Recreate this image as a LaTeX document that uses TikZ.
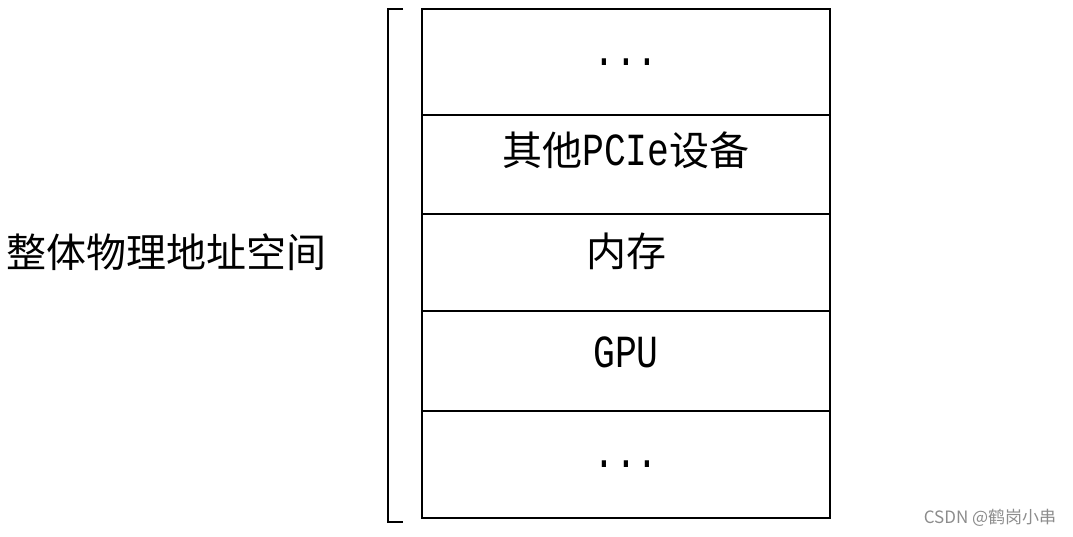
\documentclass[tikz,border=0pt]{standalone}
\usepackage{fontspec}
\setmainfont{Liberation Mono}[FakeStretch=0.79]
\newfontfamily\cjk{Noto Sans CJK SC}
\usepackage{xcolor}
\usepackage{tikz}
\usetikzlibrary{positioning}

\newcommand\zhtext[1]{{\cjk\fontsize{40}{44}\selectfont #1}}

\begin{document}
\begin{tikzpicture}[
    x=1pt, y=-1pt,
    cell/.style={draw, line width=1.6pt, minimum width=408pt, outer sep=0pt, inner sep=0pt},
    txt/.style={font=\fontsize{46}{50}\selectfont, inner sep=0pt},
    wmark/.style={font=\cjk\fontsize{17}{19}\selectfont, text=black!45}
]
\useasboundingbox (0,0) rectangle (1073,536);

% stacked address regions
\node[cell, minimum height=106pt] (topdots) at (626,62) {};
\node[cell, minimum height=99pt, below=0pt of topdots] (pcie) {};
\node[cell, minimum height=97pt, below=0pt of pcie] (mem) {};
\node[cell, minimum height=100pt, below=0pt of mem] (gpu) {};
\node[cell, minimum height=107pt, below=0pt of gpu] (botdots) {};

\node[txt] (topdotstext) at (topdots.center) {...};
\node[txt] (pcietext) at ([yshift=14pt]pcie.center) {\zhtext{其他}PCIe\zhtext{设备}};
\node[txt] (memtext) at ([yshift=11pt]mem.center) {\zhtext{内存}};
\node[txt] (gputext) at ([yshift=9pt]gpu.center) {GPU};
\node[txt] (botdotstext) at (botdots.center) {...};

% bracket and label
\draw[line width=1.6pt] ([xshift=-19pt]topdots.north west) -- ++(-15,0)
    -- ([xshift=-34pt,yshift=-4pt]botdots.south west) -- ++(15,0);
\node[inner sep=0pt] (space) at (166,252) {\zhtext{整体物理地址空间}};

\node[wmark, inner sep=0pt] (watermark) at (990,518) {CSDN @鹤岗小串};
\end{tikzpicture}
\end{document}
